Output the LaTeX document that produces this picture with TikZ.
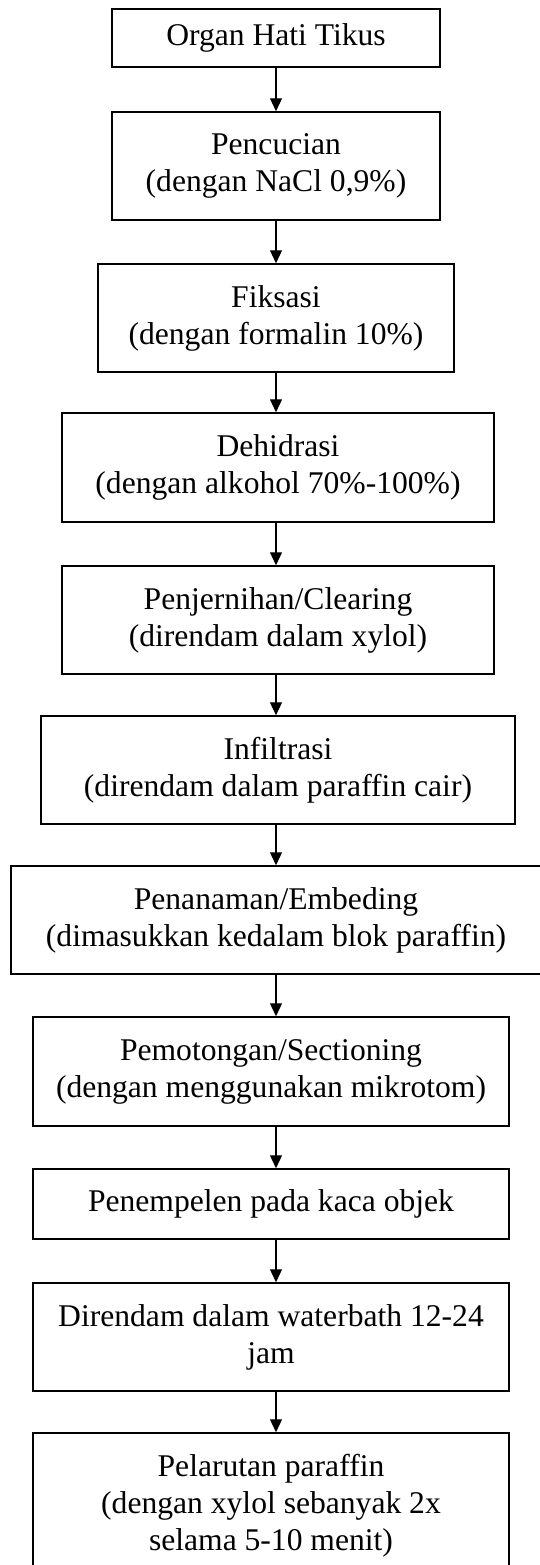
\documentclass[tikz,border=0pt]{standalone}
\usepackage{fontspec}
\setmainfont{Liberation Serif}
\usetikzlibrary{arrows.meta}
\begin{document}
\begin{tikzpicture}[x=0.5pt,y=-0.5pt,
    tahap/.style={shape=rectangle,draw,line width=0.75pt,align=center,inner sep=0pt,
      font=\fontsize{15.8}{18.5}\selectfont},
    panah/.style={-{Triangle[length=6.5pt,width=6pt]},line width=0.6pt}]
    \useasboundingbox (0,0) rectangle (540,1565);%
    \node[tahap,minimum width=164pt,minimum height=29pt] (T1) at (276,38) {Organ Hati Tikus};%
    \node[tahap,minimum width=164pt,minimum height=54pt] (T2) at (276,166) {Pencucian\\(dengan NaCl 0,9\%)};%
    \node[tahap,minimum width=178pt,minimum height=54pt] (T3) at (276,318) {Fiksasi\\(dengan formalin 10\%)};%
    \node[tahap,minimum width=216pt,minimum height=54.5pt] (T4) at (278,467.5) {Dehidrasi\\(dengan alkohol 70\%-100\%)};%
    \node[tahap,minimum width=216pt,minimum height=54pt] (T5) at (278,620) {Penjernihan/Clearing\\(direndam dalam xylol)};%
    \node[tahap,minimum width=237pt,minimum height=54pt] (T6) at (278,770) {Infiltrasi\\(direndam dalam paraffin cair)};%
    \node[tahap,minimum width=265pt,minimum height=54pt] (T7) at (276,920) {Penanaman/Embeding\\(dimasukkan kedalam blok paraffin)};%
    \node[tahap,minimum width=238pt,minimum height=54.5pt] (T8) at (271,1071.5) {Pemotongan/Sectioning\\(dengan menggunakan mikrotom)};%
    \node[tahap,minimum width=238pt,minimum height=35pt] (T9) at (271,1204) {Penempelen pada kaca objek};%
    \node[tahap,minimum width=238pt,minimum height=54pt] (T10) at (271,1337) {Direndam dalam waterbath 12-24\\jam};%
    \node[tahap,minimum width=238pt,minimum height=72.5pt] (T11) at (271,1505.5) {Pelarutan paraffin\\(dengan xylol sebanyak 2x\\selama 5-10 menit)};%

    \draw[panah] (T1.south) to (T2.north);%
    \draw[panah] (T2.south) to (T3.north);%
    \draw[panah] (T3.south) to (T3.south |- T4.north);%
    \draw[panah] (T3.south |- T4.south) to (T3.south |- T5.north);%
    \draw[panah] (T3.south |- T5.south) to (T3.south |- T6.north);%
    \draw[panah] (T3.south |- T6.south) to (T7.north);%
    \draw[panah] (T7.south) to (T7.south |- T8.north);%
    \draw[panah] (T7.south |- T8.south) to (T7.south |- T9.north);%
    \draw[panah] (T7.south |- T9.south) to (T7.south |- T10.north);%
    \draw[panah] (T7.south |- T10.south) to (T7.south |- T11.north);%
  \end{tikzpicture}
\end{document}
